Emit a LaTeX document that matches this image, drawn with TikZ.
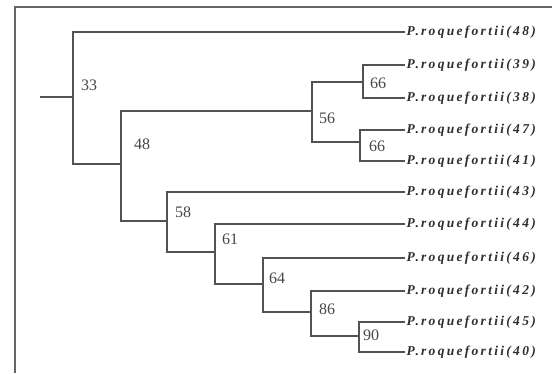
\documentclass[tikz,border=0pt]{standalone}
\usepackage{fontspec}
\setmainfont{Liberation Serif}
\newfontfamily\leaffont[LetterSpace=17]{Liberation Serif}
\begin{document}
\begin{tikzpicture}[x=1pt,y=-1pt,
  branch/.style={draw=black!68,line width=1.3pt},
  frameline/.style={draw=black!60,line width=2pt},
  leaf/.style={anchor=west,inner sep=1.5pt,font=\leaffont\bfseries\itshape\fontsize{13.5}{15}\selectfont,text=black!82},
  support/.style={font=\fontsize{16}{17}\selectfont,text=black!72,inner sep=0pt}]
\useasboundingbox (0,0) rectangle (552,373);
\fill[white] (0,0) rectangle (552,373);
\draw[frameline] (15,373) -- (15,7) -- (552,7);
% internal nodes
\coordinate (r) at (40,97);
\coordinate (n33) at (73,97);
\coordinate (n48) at (121,164);
\coordinate (n56) at (312,111);
\coordinate (n66a) at (363,82);
\coordinate (n66b) at (360,142);
\coordinate (n58) at (167,221);
\coordinate (n61) at (215,252);
\coordinate (n64) at (263,284);
\coordinate (n86) at (311,312);
\coordinate (n90) at (359,336);
% leaves
\node[leaf] (L48) at (405,32) {P.roquefortii(48)};
\node[leaf] (L39) at (405,65) {P.roquefortii(39)};
\node[leaf] (L38) at (405,98) {P.roquefortii(38)};
\node[leaf] (L47) at (405,130) {P.roquefortii(47)};
\node[leaf] (L41) at (405,161) {P.roquefortii(41)};
\node[leaf] (L43) at (405,192) {P.roquefortii(43)};
\node[leaf] (L44) at (405,224) {P.roquefortii(44)};
\node[leaf] (L46) at (405,258) {P.roquefortii(46)};
\node[leaf] (L42) at (405,291) {P.roquefortii(42)};
\node[leaf] (L45) at (405,322) {P.roquefortii(45)};
\node[leaf] (L40) at (405,352) {P.roquefortii(40)};
% branches
\draw[branch] (r) -- (n33);
\draw[branch] (n33) |- (L48.west);
\draw[branch] (n33) |- (n48);
\draw[branch] (n48) |- (n56);
\draw[branch] (n48) |- (n58);
\draw[branch] (n56) |- (n66a);
\draw[branch] (n56) |- (n66b);
\draw[branch] (n66a) |- (L39.west);
\draw[branch] (n66a) |- (L38.west);
\draw[branch] (n66b) |- (L47.west);
\draw[branch] (n66b) |- (L41.west);
\draw[branch] (n58) |- (L43.west);
\draw[branch] (n58) |- (n61);
\draw[branch] (n61) |- (L44.west);
\draw[branch] (n61) |- (n64);
\draw[branch] (n64) |- (L46.west);
\draw[branch] (n64) |- (n86);
\draw[branch] (n86) |- (L42.west);
\draw[branch] (n86) |- (n90);
\draw[branch] (n90) |- (L45.west);
\draw[branch] (n90) |- (L40.west);
% support values
\node[support] (s33) at (89,85) {33};
\node[support] (s48) at (142,144) {48};
\node[support] (s56) at (327,118) {56};
\node[support] (s66a) at (378,83) {66};
\node[support] (s66b) at (377,146) {66};
\node[support] (s58) at (183,212) {58};
\node[support] (s61) at (230,239) {61};
\node[support] (s64) at (277,278) {64};
\node[support] (s86) at (327,309) {86};
\node[support] (s90) at (371,335) {90};
\end{tikzpicture}
\end{document}
